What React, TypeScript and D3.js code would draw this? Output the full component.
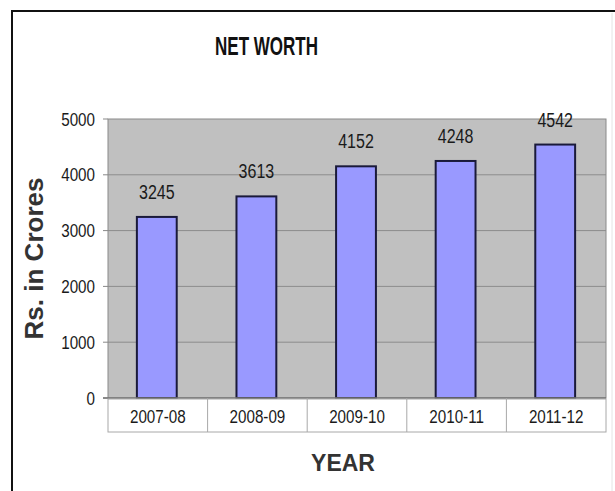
import React from "react";
import * as d3 from "d3";

const categories = ["2007-08", "2008-09", "2009-10", "2010-11", "2011-12"];
const values = [3245, 3613, 4152, 4248, 4542];
const yTicks = [0, 1000, 2000, 3000, 4000, 5000];
const title = "NET WORTH";
const yLabel = "Rs. in Crores";
const xLabel = "YEAR";

const W = 615;
const H = 491;
const plot = { left: 108, right: 606, top: 119, bottom: 398 };
const tableBottom = 432;
const sans = "'Liberation Sans', Arial, sans-serif";
const SX = 0.8;

function NText({ x, y, anchor, size, weight, fill, children }: any) {
  return (
    <text transform={`translate(${x},${y}) scale(${SX},1)`} textAnchor={anchor} fontFamily={sans} fontSize={size}
      fontWeight={weight || "normal"} fill={fill || "#1a1a1a"}>
      {children}
    </text>
  );
}

export default function App() {
  const x = d3.scaleBand<string>().domain(categories).range([plot.left, plot.right]).padding(0);
  const y = d3.scaleLinear().domain([0, 5000]).range([plot.bottom, plot.top]);
  const bw = x.bandwidth() * 0.4;

  return (
    <svg width={W} height={H} style={{ position: "absolute", left: 0, top: 0, background: "#fff" }}>
      <rect x={0} y={0} width={W} height={H} fill="#fff" />
      {/* outer frame */}
      <rect x={12} y={11} width={W + 20} height={H + 20} fill="none" stroke="#111" strokeWidth={2} />
      <line x1={612} y1={13} x2={612} y2={H} stroke="#e4e4e4" strokeWidth={1} />

      {/* title */}
      <text x={266.5} y={55} textAnchor="middle" fontFamily={sans} fontWeight="bold" fontSize={26} fill="#111"
        textLength={103} lengthAdjust="spacingAndGlyphs">
        {title}
      </text>

      {/* plot background */}
      <rect x={plot.left} y={plot.top} width={plot.right - plot.left} height={plot.bottom - plot.top} fill="#c0c0c0" stroke="#8a8a8a" strokeWidth={1} />

      {/* gridlines */}
      {yTicks.filter((t) => t > 0 && t < 5000).map((t) => (
        <line key={"g" + t} x1={plot.left} x2={plot.right} y1={y(t)} y2={y(t)} stroke="#8c8c8c" strokeWidth={1} />
      ))}

      {/* y ticks */}
      {yTicks.map((t) => (
        <g key={"t" + t}>
          <line x1={plot.left - 5} x2={plot.left} y1={y(t)} y2={y(t)} stroke="#888" strokeWidth={1} />
          <NText x={95} y={y(t) + 6.5} anchor="end" size={19}>{t}</NText>
        </g>
      ))}

      {/* bars */}
      {values.map((v, i) => {
        const cx = (x(categories[i]) as number) + x.bandwidth() / 2 - 1;
        return (
          <g key={"b" + i}>
            <rect x={cx - bw / 2} y={y(v)} width={bw} height={plot.bottom - y(v)} fill="#9999ff" stroke="#1a1a3a" strokeWidth={2} />
            <NText x={cx} y={y(v) - 18} anchor="middle" size={20}>{v}</NText>
          </g>
        );
      })}

      {/* axis baseline */}
      <line x1={plot.left - 5} x2={plot.right} y1={plot.bottom} y2={plot.bottom} stroke="#777" strokeWidth={1.5} />

      {/* category table */}
      <rect x={plot.left} y={plot.bottom + 1} width={plot.right - plot.left} height={tableBottom - plot.bottom - 1} fill="#fff" stroke="#a8a8a8" strokeWidth={1} />
      {categories.slice(1).map((c) => (
        <line key={"s" + c} x1={x(c) as number} x2={x(c) as number} y1={plot.bottom} y2={tableBottom} stroke="#a8a8a8" strokeWidth={1} />
      ))}
      {categories.map((c) => (
        <NText key={"c" + c} x={(x(c) as number) + x.bandwidth() / 2} y={423} anchor="middle" size={19}>{c}</NText>
      ))}

      {/* axis titles */}
      <text x={343} y={471} textAnchor="middle" fontFamily={sans} fontWeight="bold" fontSize={23} fill="#333">
        {xLabel}
      </text>
      <text transform={`translate(43, ${(plot.top + plot.bottom) / 2}) rotate(-90)`} textAnchor="middle" fontFamily={sans} fontWeight="bold" fontSize={26} fill="#333">
        {yLabel}
      </text>
    </svg>
  );
}
